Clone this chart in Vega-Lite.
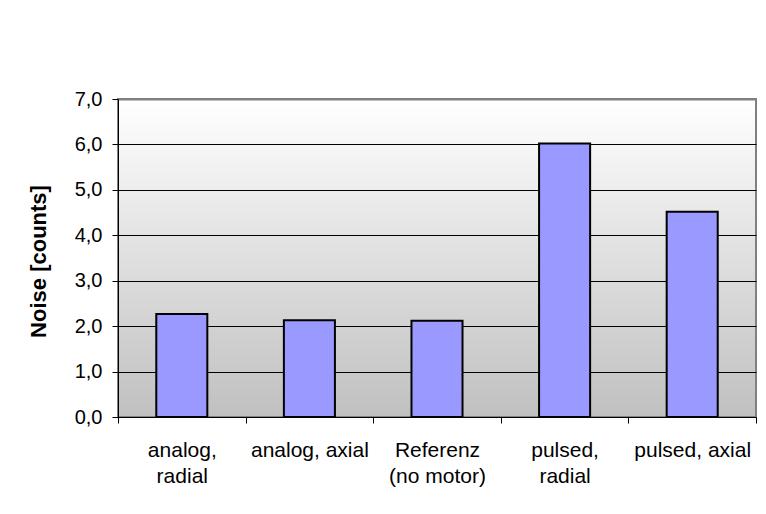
{
  "$schema": "https://vega.github.io/schema/vega-lite/v6.json",
  "width": 638,
  "height": 318,
  "autosize": {"type": "none"},
  "padding": {"left": 118, "top": 99, "right": 10, "bottom": 97},
  "background": "#ffffff",
  "data": {
    "values": [
      {"setup": "analog, radial", "noise": 2.27},
      {"setup": "analog, axial", "noise": 2.13},
      {"setup": "Referenz (no motor)", "noise": 2.12},
      {"setup": "pulsed, radial", "noise": 6.02},
      {"setup": "pulsed, axial", "noise": 4.52}
    ]
  },
  "mark": {
    "type": "bar",
    "width": {"band": 0.4},
    "fill": "#9999ff",
    "stroke": "#000000",
    "strokeWidth": 2
  },
  "encoding": {
    "x": {
      "field": "setup",
      "type": "nominal",
      "sort": null,
      "scale": {"paddingInner": 0, "paddingOuter": 0},
      "axis": {
        "title": null,
        "labelAngle": 0,
        "labelFont": "Liberation Sans",
        "labelFontSize": 21,
        "labelColor": "#000000",
        "labelPadding": 16,
        "labelLineHeight": 26,
        "labelBaseline": "top",
        "tickBand": "extent",
        "tickColor": "#000000",
        "tickSize": 6,
        "domainColor": "#000000",
        "grid": false,
        "labelExpr": "datum.value == 'analog, radial' ? ['analog,', 'radial'] : datum.value == 'Referenz (no motor)' ? ['Referenz', '(no motor)'] : datum.value == 'pulsed, radial' ? ['pulsed,', 'radial'] : datum.value"
      }
    },
    "y": {
      "field": "noise",
      "type": "quantitative",
      "scale": {"domain": [0, 7], "nice": false},
      "axis": {
        "title": "Noise [counts]",
        "titleFont": "Liberation Sans",
        "titleFontSize": 22,
        "titleFontWeight": "bold",
        "titleColor": "#000000",
        "titleAngle": -90,
        "titleX": -80,
        "titleY": 162,
        "titleAlign": "center",
        "titleBaseline": "middle",
        "values": [0, 1, 2, 3, 4, 5, 6, 7],
        "labelExpr": "replace(format(datum.value, '.1f'), '.', ',')",
        "labelFont": "Liberation Sans",
        "labelFontSize": 20,
        "labelColor": "#000000",
        "labelPadding": 10,
        "tickColor": "#000000",
        "tickSize": 6,
        "domainColor": "#000000",
        "grid": true,
        "gridColor": {"condition": {"test": "datum.value == 7", "value": "#808080"}, "value": "#000000"},
        "gridWidth": {"condition": {"test": "datum.value == 7", "value": 2}, "value": 1},
        "gridOpacity": 1
      }
    }
  },
  "config": {
    "view": {
      "fill": {
        "gradient": "linear",
        "x1": 0, "y1": 0, "x2": 0, "y2": 1,
        "stops": [
          {"offset": 0, "color": "#ffffff"},
          {"offset": 1, "color": "#c0c0c0"}
        ]
      },
      "stroke": "#808080",
      "strokeWidth": 2
    }
  }
}
